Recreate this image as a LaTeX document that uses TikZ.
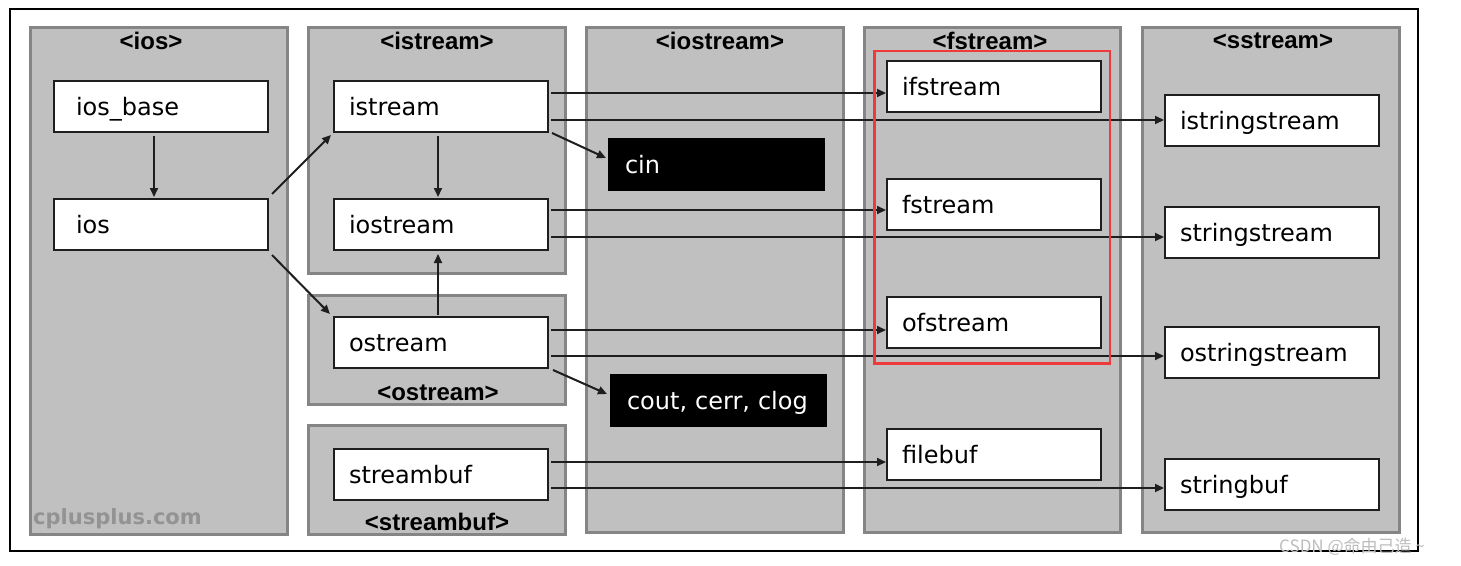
\documentclass[tikz,border=0pt]{standalone}
\usepackage{fontspec}
\usetikzlibrary{arrows.meta,calc}
\newfontfamily\boxfam{DejaVu Sans}
\newfontfamily\titlefam{Liberation Sans}
\newfontfamily\cjk{Noto Sans CJK SC}
\definecolor{panelgray}{HTML}{C0C0C0}
\definecolor{panelborder}{HTML}{858585}
\definecolor{boxborder}{HTML}{1E1E1E}
\definecolor{arrowcol}{HTML}{1E1E1E}
\definecolor{redmark}{RGB}{238,58,58}
\definecolor{wmgray}{HTML}{939393}
\definecolor{csdngray}{HTML}{BDBDBD}
\begin{document}
\begin{tikzpicture}[x=1pt,y=-1pt,
  panel/.style={fill=panelgray,draw=panelborder,line width=3pt},
  box/.style={draw=boxborder,fill=white,line width=2pt,minimum width=214pt,minimum height=51pt,
    anchor=north west,inner xsep=15pt,inner ysep=0pt,text width=184pt,align=left,
    text height=18pt,text depth=0pt,font=\boxfam\fontsize{24}{28}\selectfont},
  iosbox/.style={box,inner xsep=22pt,text width=170pt},
  blackbox/.style={box,fill=black,draw=black,text=white,inner xsep=16pt,text width=183pt},
  title/.style={font=\titlefam\bfseries\fontsize{24}{28}\selectfont,inner sep=0pt},
  arr/.style={draw=arrowcol,line width=2pt,-{Triangle[length=9pt,width=8pt]}}]
\useasboundingbox (0,0) rectangle (1461,565);
\fill[white] (0,0) rectangle (1461,565);
% outer frame
\draw[black,line width=2pt] (10,9) rectangle (1418,551);
% panels
\draw[panel] (30.5,27.5) rectangle (287,534.5);
\draw[panel] (308.5,27.5) rectangle (565,273);
\draw[panel] (308.5,295.5) rectangle (565,404);
\draw[panel] (308.5,425.5) rectangle (565,534.5);
\draw[panel] (586.5,27.5) rectangle (843,532);
\draw[panel] (864.5,27.5) rectangle (1120,532);
\draw[panel] (1142.5,27.5) rectangle (1399,532);
% titles
\node[title] (t-ios) at (151,41) {<ios>};
\node[title] (t-istream) at (437,41) {<istream>};
\node[title] (t-iostream) at (720,41) {<iostream>};
\node[title] (t-fstream) at (990,41) {<fstream>};
\node[title] (t-sstream) at (1273,41) {<sstream>};
\node[title] (t-ostream) at (438,393) {<ostream>};
\node[title] (t-streambuf) at (437,522) {<streambuf>};
% boxes
\node[iosbox] (iosbase) at (53,80) {ios\_base};
\node[iosbox] (ios) at (53,198) {ios};
\node[box] (istream) at (333,80) {istream};
\node[box] (iostream) at (333,198) {iostream};
\node[box] (ostream) at (333,316) {ostream};
\node[box] (streambuf) at (333,448) {streambuf};
\node[blackbox] (cin) at (608,138) {cin};
\node[blackbox] (cout) at (610,374) {cout, cerr, clog};
\node[box] (ifstream) at (886,60) {ifstream};
\node[box] (fstream) at (886,178) {fstream};
\node[box] (ofstream) at (886,296) {ofstream};
\node[box] (filebuf) at (886,428) {filebuf};
\node[box] (istringstream) at (1164,94) {istringstream};
\node[box] (stringstream) at (1164,206) {stringstream};
\node[box] (ostringstream) at (1164,326) {ostringstream};
\node[box] (stringbuf) at (1164,458) {stringbuf};
% vertical / diagonal arrows
\draw[arr] ([xshift=-7pt,yshift=-3pt]iosbase.south) -- ([xshift=-7pt,yshift=1pt]ios.north);
\draw[arr] ([shift={(3,-4)}]ios.north east) -- ([shift={(-2,2)}]istream.south west);
\draw[arr] ([shift={(3,4)}]ios.south east) -- ([shift={(-3,-2)}]ostream.north west);
\draw[arr] ([xshift=-3pt,yshift=-3pt]istream.south) -- ([xshift=-3pt,yshift=1pt]iostream.north);
\draw[arr] ([xshift=-3pt,yshift=1pt]ostream.north) -- ([xshift=-3pt,yshift=-3pt]iostream.south);
\draw[arr] ([shift={(3,0)}]istream.south east) -- ($(cin.north west)+(-2,20)$);
\draw[arr] ([shift={(4,1)}]ostream.south east) -- ($(cout.north west)+(-3,20)$);
% horizontal arrows
\coordinate (a1) at ($(istream.north east)+(2,13)$);
\coordinate (a2) at ($(istream.north east)+(2,40)$);
\coordinate (b1) at ($(iostream.north east)+(2,12)$);
\coordinate (b2) at ($(iostream.north east)+(2,39)$);
\coordinate (c1) at ($(ostream.north east)+(2,14)$);
\coordinate (c2) at ($(ostream.north east)+(2,40)$);
\coordinate (d1) at ($(streambuf.north east)+(2,14)$);
\coordinate (d2) at ($(streambuf.north east)+(2,40)$);
\draw[arr] (a1) -- (a1 -| ifstream.west);
\draw[arr] (a2) -- (a2 -| istringstream.west);
\draw[arr] (b1) -- (b1 -| fstream.west);
\draw[arr] (b2) -- (b2 -| stringstream.west);
\draw[arr] (c1) -- (c1 -| ofstream.west);
\draw[arr] (c2) -- (c2 -| ostringstream.west);
\draw[arr] (d1) -- (d1 -| filebuf.west);
\draw[arr] (d2) -- (d2 -| stringbuf.west);
% red highlight
\draw[redmark,line width=2.5pt] (874.5,51) rectangle (1110,363.5);
% watermarks
\node[anchor=base west,inner sep=0pt,text=wmgray,font=\boxfam\bfseries\fontsize{21}{26}\selectfont] (wm) at (33,524) {cplusplus.com};
\node[anchor=west,inner sep=0pt,text=csdngray,font=\cjk\fontsize{17}{20}\selectfont] (csdn) at (1279,547) {CSDN @命由己造 \textasciitilde};
\end{tikzpicture}
\end{document}
